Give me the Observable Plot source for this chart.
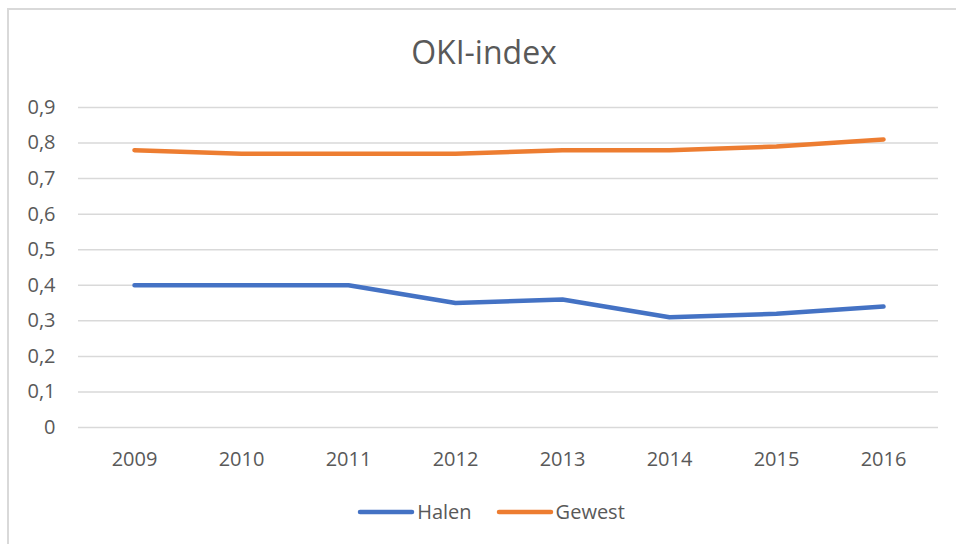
<!DOCTYPE html>
<html>
<head>
<meta charset="utf-8">
<script src="https://cdn.jsdelivr.net/npm/d3@7"></script>
<script src="https://cdn.jsdelivr.net/npm/@observablehq/plot@0.6"></script>
<style>
  html, body { margin: 0; padding: 0; background: #fff; }
  #wrap { position: relative; width: 956px; height: 544px; overflow: hidden; font-family: "Open Sans", sans-serif; }
  #border { position: absolute; left: 7px; top: 8px; width: 1000px; height: 600px; border-left: 2px solid #d9d9d9; border-top: 2px solid #d9d9d9; box-sizing: border-box; }
  #title { position: absolute; left: 0; width: 968px; top: 30px; text-align: center; font-size: 32px; color: #595959; line-height: 44px; }
  #chart { position: absolute; left: 0; top: 90px; }
  #legend { position: absolute; left: 0; width: 982px; top: 498px; display: flex; justify-content: center; align-items: center; font-size: 20px; color: #595959; }
  .item { display: flex; align-items: center; margin: 0 12px; }
  .item svg { margin-right: 2px; }
</style>
</head>
<body>
<div id="wrap">
  <div id="border"></div>
  <div id="title">OKI-index</div>
  <div id="chart"></div>
  <div id="legend"></div>
</div>
<script>
const years = ["2009","2010","2011","2012","2013","2014","2015","2016"];
const halen = [0.40, 0.40, 0.40, 0.35, 0.36, 0.31, 0.32, 0.34];
const gewest = [0.78, 0.77, 0.77, 0.77, 0.78, 0.78, 0.79, 0.81];
const seriesNames = ["Halen", "Gewest"];
const seriesColors = ["#4472C4", "#ED7D31"];
const yTicks = [0, 0.1, 0.2, 0.3, 0.4, 0.5, 0.6, 0.7, 0.8, 0.9];

const data = [];
years.forEach((y, i) => {
  data.push({year: y, value: halen[i], series: "Halen"});
  data.push({year: y, value: gewest[i], series: "Gewest"});
});

const fmt = v => v === 0 ? "0" : v.toFixed(1).replace(".", ",");

const plot = Plot.plot({
  width: 956,
  height: 380,
  marginTop: 17,
  marginBottom: 43,
  marginLeft: 78,
  marginRight: 18,
  style: {fontFamily: "Open Sans, sans-serif", fontSize: "20px", color: "#595959", background: "transparent", overflow: "visible"},
  x: {type: "point", domain: years, padding: 0.5, label: null},
  y: {domain: [0, 0.9], label: null},
  color: {domain: seriesNames, range: seriesColors},
  marks: [
    Plot.ruleY(yTicks, {stroke: "#d9d9d9", strokeWidth: 1.5}),
    Plot.axisY({ticks: yTicks, tickFormat: fmt, tickSize: 0, tickPadding: 23, fill: "#595959", fontSize: 20}),
    Plot.axisX({tickSize: 0, tickPadding: 24, fill: "#595959", fontSize: 20}),
    Plot.line(data, {x: "year", y: "value", z: "series", stroke: "series", strokeWidth: 4.5, strokeLinecap: "round", strokeLinejoin: "round"})
  ]
});
document.getElementById("chart").appendChild(plot);

const legend = document.getElementById("legend");
seriesNames.forEach((name, i) => {
  const item = document.createElement("div");
  item.className = "item";
  item.innerHTML = `<svg width="58" height="10"><line x1="3" y1="5" x2="55" y2="5" stroke="${seriesColors[i]}" stroke-width="4.5" stroke-linecap="round"/></svg><span>${name}</span>`;
  legend.appendChild(item);
});
</script>
</body>
</html>
